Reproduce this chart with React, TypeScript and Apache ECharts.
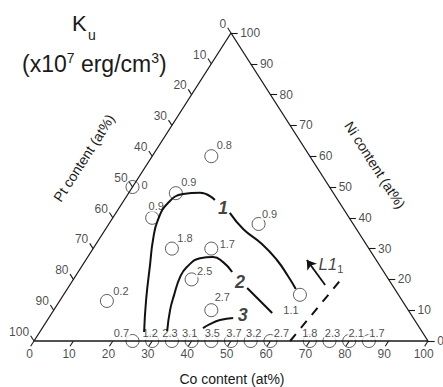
import React, { useEffect, useRef } from "react";
import * as echarts from "echarts";

// ---- Data (compositions in at%, Pt = 100 - Co - Ni) ----
const AXIS_TICKS = [0, 10, 20, 30, 40, 50, 60, 70, 80, 90, 100];

const POINT_CO = [15, 0, 12, 10, 38, 20, 30, 30, 40, 60, 12, 25, 30, 35, 40, 45, 50, 55, 60, 70, 75, 80, 85];
const POINT_NI = [60, 50, 48, 40, 38, 30, 30, 20, 10, 15, 13, 0, 0, 0, 0, 0, 0, 0, 0, 0, 0, 0, 0];
const POINT_KU = [0.8, 0, 0.9, 0.9, 0.9, 1.8, 1.7, 2.5, 2.7, 1.1, 0.2, 0.7, 1.2, 2.3, 3.1, 3.5, 3.7, 3.2, 2.7, 1.8, 2.3, 2.1, 1.7];

const CONTOUR_1A_CO = [26.5, 21.8, 17.1, 13.8, 11.8, 11.6, 14.0, 18.1, 23.0];
const CONTOUR_1A_NI = [2.9, 13.3, 24.7, 32.8, 39.3, 44.8, 47.7, 48.1, 45.8];
const CONTOUR_1B_CO = [28.9, 35.0, 42.1, 48.5, 53.9, 58.0];
const CONTOUR_1B_NI = [41.6, 36.3, 31.5, 26.3, 21.1, 16.9];

const CONTOUR_2A_CO = [32.2, 29.5, 28.1, 26.7, 26.8, 28.7, 31.8, 35.2, 39.1];
const CONTOUR_2A_NI = [3.2, 10.1, 14.9, 20.8, 24.0, 26.9, 27.3, 25.6, 22.4];
const CONTOUR_2B_CO = [45.5, 55.9];
const CONTOUR_2B_NI = [17.2, 9.1];

const CONTOUR_3_CO = [40.8, 41.9, 43.8, 46.8];
const CONTOUR_3_NI = [4.2, 5.5, 6.8, 7.5];

const CURVE_LABELS = ["1", "2", "3"];
const CURVE_LABEL_CO = [26.4, 42.7, 48.8];
const CURVE_LABEL_NI = [43.2, 19.2, 8.4];

const L1_CO = [65, 68.1];
const L1_NI = [0, 21.1];
const ARROW_CO = [64.8, 56.1];
const ARROW_NI = [18.2, 26.3];
const L1_LABEL_CO = [59.7];
const L1_LABEL_NI = [24.7];

// ---- Style ----
const FONT = "'Liberation Sans', Arial, Helvetica, sans-serif";
const INK = "#1a1a1a";
const LABEL_OFFSETS = [
  [13, -11], [12, -2], [13, -11], [4, -12], [11, -10], [13, -11], [16, -5], [13, -8], [11, -13], [-9, 15], [14, -10],
  [-11, -8], [-2, -8], [-2, -8], [-2, -8], [1, -8], [3, -8], [3, -8], [11, -8], [0, -8], [3, -8], [7, -8], [8, -8],
];
const TICK_LEN = 1.7;
const EDGE_DEG = 57.3;

const toXY = (co: number, ni: number) => [co + ni / 2, ni];
const pairs = (co: number[], ni: number[]) => co.map((c, i) => toXY(c, ni[i]));

export default function App() {
  const ref = useRef<HTMLDivElement>(null);

  useEffect(() => {
    if (!ref.current) return;
    const chart = echarts.init(ref.current, undefined, { renderer: "svg" });

    const tickSegs: any[] = [];
    const bottomLbl: any[] = [];
    const rightLbl: any[] = [];
    const leftLbl: any[] = [];
    AXIS_TICKS.forEach((v) => {
      const b0 = toXY(v, 0), b1 = toXY(v, -TICK_LEN);
      tickSegs.push({ coords: [b0, b1] });
      bottomLbl.push({ name: String(v), value: b1 });
      const r0 = toXY(100 - v, v), r1 = toXY(100 - v + TICK_LEN, v);
      tickSegs.push({ coords: [r0, r1] });
      rightLbl.push({ name: String(v), value: r1 });
      const l0 = toXY(0, 100 - v), l1 = toXY(-TICK_LEN, 100 - v + TICK_LEN);
      tickSegs.push({ coords: [l0, l1] });
      leftLbl.push({ name: String(v), value: l1 });
    });

    const tickLabelSeries = (data: any[], label: any) => ({
      type: "scatter",
      data,
      symbolSize: 1,
      itemStyle: { color: "rgba(0,0,0,0)" },
      clip: false,
      silent: true,
      label: { show: true, formatter: "{b}", color: INK, fontSize: 12, fontFamily: FONT, ...label },
    });

    const contour = (co: number[], ni: number[]) => ({
      type: "line",
      data: pairs(co, ni),
      smooth: 0.5,
      symbol: "none",
      clip: false,
      silent: true,
      lineStyle: { color: "#111", width: 2 },
    });

    const points = POINT_CO.map((c, i) => ({
      name: String(POINT_KU[i]),
      value: toXY(c, POINT_NI[i]),
      label: POINT_NI[i] === 0
        ? { offset: LABEL_OFFSETS[i], padding: [0, 1, 2, 1] }
        : { offset: LABEL_OFFSETS[i] },
    }));

    const curveLabels = CURVE_LABELS.map((t, i) => ({
      name: t,
      value: toXY(CURVE_LABEL_CO[i], CURVE_LABEL_NI[i]),
    }));

    const option: any = {
      animation: false,
      backgroundColor: "#fff",
      grid: { left: 34, right: 15, top: 33, bottom: 46, containLabel: false },
      xAxis: { type: "value", min: 0, max: 100, show: false },
      yAxis: { type: "value", min: 0, max: 100, show: false },
      graphic: [
        { type: "text", x: 72, y: 23, style: { text: "K", fontSize: 22, fontFamily: FONT, fill: INK, verticalAlign: "middle" } },
        { type: "text", x: 88, y: 35, style: { text: "u", fontSize: 14, fontFamily: FONT, fill: INK, verticalAlign: "middle" } },
        {
          type: "text",
          x: 22,
          y: 64,
          style: {
            text: "{b|(x10}{s|7}{b| erg/cm}{s|3}{b|)}",
            fontFamily: FONT,
            fill: INK,
            verticalAlign: "middle",
            rich: {
              b: { fontSize: 23, fontFamily: FONT, fill: INK, height: 26, verticalAlign: "bottom" },
              s: { fontSize: 14, fontFamily: FONT, fill: INK, height: 14, verticalAlign: "top" },
            },
          },
        },
        { type: "text", x: 232, y: 379, style: { text: "Co content (at%)", fontSize: 14, fontFamily: FONT, fill: INK, align: "center", verticalAlign: "middle" } },
        { type: "text", x: 375, y: 165, rotation: (-EDGE_DEG * Math.PI) / 180, style: { text: "Ni content (at%)", fontSize: 14, fontFamily: FONT, fill: INK, align: "center", verticalAlign: "middle" } },
        { type: "text", x: 84, y: 158, rotation: (EDGE_DEG * Math.PI) / 180, style: { text: "Pt content (at%)", fontSize: 14, fontFamily: FONT, fill: INK, align: "center", verticalAlign: "middle" } },
      ],
      series: [
        {
          type: "line",
          data: [toXY(0, 0), toXY(100, 0), toXY(0, 100), toXY(0, 0)],
          symbol: "none",
          clip: false,
          silent: true,
          lineStyle: { color: INK, width: 1.3 },
        },
        {
          type: "lines",
          coordinateSystem: "cartesian2d",
          data: tickSegs,
          clip: false,
          silent: true,
          lineStyle: { color: INK, width: 1.1, opacity: 1 },
        },
        tickLabelSeries(bottomLbl, { position: "bottom", distance: 1, offset: [-1, 0] }),
        tickLabelSeries(rightLbl, { position: "right", distance: 2 }),
        tickLabelSeries(leftLbl, { position: "left", distance: 1, offset: [0, -4] }),
        contour(CONTOUR_1A_CO, CONTOUR_1A_NI),
        contour(CONTOUR_1B_CO, CONTOUR_1B_NI),
        contour(CONTOUR_2A_CO, CONTOUR_2A_NI),
        contour(CONTOUR_2B_CO, CONTOUR_2B_NI),
        contour(CONTOUR_3_CO, CONTOUR_3_NI),
        {
          type: "line",
          data: pairs(L1_CO, L1_NI),
          symbol: "none",
          clip: false,
          silent: true,
          lineStyle: { color: "#111", width: 2, type: [9, 8] },
        },
        {
          type: "lines",
          coordinateSystem: "cartesian2d",
          data: [{ coords: pairs(ARROW_CO, ARROW_NI) }],
          symbol: ["none", "arrow"],
          symbolSize: 9,
          clip: false,
          silent: true,
          lineStyle: { color: "#111", width: 1.8, opacity: 1 },
        },
        {
          type: "scatter",
          data: curveLabels,
          symbolSize: 1,
          itemStyle: { color: "rgba(0,0,0,0)" },
          clip: false,
          silent: true,
          label: { show: true, position: "inside", formatter: "{b}", fontSize: 18, fontWeight: "bold", fontStyle: "italic", fontFamily: FONT, color: "#111" },
        },
        {
          type: "scatter",
          data: pairs(L1_LABEL_CO, L1_LABEL_NI).map((v) => ({ name: "L1", value: v })),
          symbolSize: 1,
          itemStyle: { color: "rgba(0,0,0,0)" },
          clip: false,
          silent: true,
          label: {
            show: true,
            position: "right",
            distance: 0,
            formatter: "{i|L1}{s|1}",
            rich: {
              i: { fontSize: 17, fontStyle: "italic", fontFamily: FONT, color: "#111", height: 20, verticalAlign: "top" },
              s: { fontSize: 11, fontFamily: FONT, color: "#111", height: 11, verticalAlign: "bottom" },
            },
          },
        },
        {
          type: "scatter",
          data: points,
          symbol: "circle",
          symbolSize: 13,
          clip: false,
          silent: true,
          itemStyle: { color: "rgba(255,255,255,0)", borderColor: "#333", borderWidth: 1 },
          label: {
            show: true,
            position: "inside",
            formatter: "{b}",
            fontSize: 11,
            fontFamily: FONT,
            color: INK,
            backgroundColor: "#fff",
            padding: [0, 1],
            lineHeight: 12,
          },
        },
      ],
    };

    chart.setOption(option);
    return () => chart.dispose();
  }, []);

  return <div ref={ref} style={{ position: "fixed", left: 0, top: 0, width: 443, height: 387 }} />;
}
